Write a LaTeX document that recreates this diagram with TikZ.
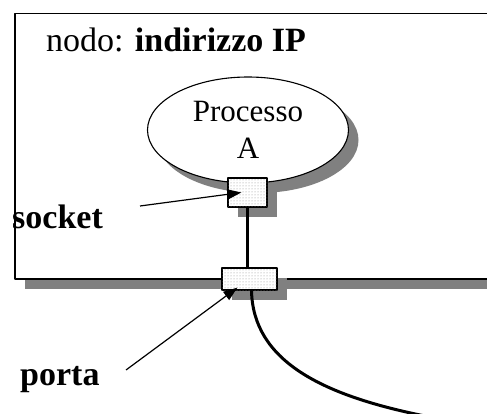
\documentclass[tikz,border=0pt]{standalone}
\usepackage{fontspec}
\setmainfont{Liberation Serif}
\usetikzlibrary{arrows.meta,calc,positioning,shapes.geometric,shadows,patterns}
\definecolor{netInk}{HTML}{000000}
\definecolor{netShade}{HTML}{808080}
\definecolor{netDots}{HTML}{8C8C8C}

\begin{document}
\begin{tikzpicture}[x=1pt,y=-1pt,>=Latex,line join=round]
\useasboundingbox (0,0) rectangle (487,414);
\path[fill=white] (0,0) rectangle (487,414);
\tikzset{shade/.style={drop shadow={shadow xshift=10pt,shadow yshift=-10pt,fill=netShade,opacity=1}},
  frame/.style={draw=netInk,fill=white,line width=1.5pt,shade,inner sep=0pt},
  proc/.style={ellipse,draw=netInk,fill=white,line width=1.1pt,shade,inner sep=0pt,align=center,font=\fontsize{31}{37}\selectfont},
  port/.style={draw=netInk,fill=white,line width=1.3pt,shade,inner sep=0pt,postaction={pattern=dots,pattern color=netDots}},
  lbl/.style={font=\fontsize{34}{40}\selectfont\bfseries,inner sep=0pt},
  link/.style={draw=netInk,line width=2.4pt},
  pointer/.style={draw=netInk,line width=1.2pt,-{Triangle[length=14pt,width=10pt]}},
  cable/.style={draw=netInk,line width=3pt,line cap=round}}
% host box
\node[frame,anchor=north west,minimum width=486pt,minimum height=265pt] (nodo) at (14,13) {};
\node[anchor=base west,inner sep=0pt,font=\fontsize{34}{40}\selectfont] (title) at (46,52) {nodo: \textbf{indirizzo IP}};
% process with its socket
\node[proc,minimum width=201pt,minimum height=106pt] (procA) at (248,130) {Processo\\A};
\node[port,minimum width=39pt,minimum height=29pt] (sock) at (247.5,192.5) {};
\node[port,minimum width=55pt,minimum height=22pt] (porta) at (249.5,279) {};
\draw[link] (sock.south) -- (sock.south |- porta.north);
% labels
\node[lbl,anchor=base west] (lsock) at (12,228) {socket};
\node[lbl,anchor=base west] (lporta) at (20,385) {porta};
\coordinate (stail) at (140,206);
\coordinate (ptail) at (126,370);
\draw[pointer] (stail) -- ([xshift=14pt]sock.west);
\draw[pointer] (ptail) -- ($(porta.south west)+(16,-3)$);
% network cable
\coordinate (cend) at (425,416);
\draw[cable] ([xshift=2pt]porta.south) .. controls (253,360) and (320,395) .. (cend);
\end{tikzpicture}
\end{document}
